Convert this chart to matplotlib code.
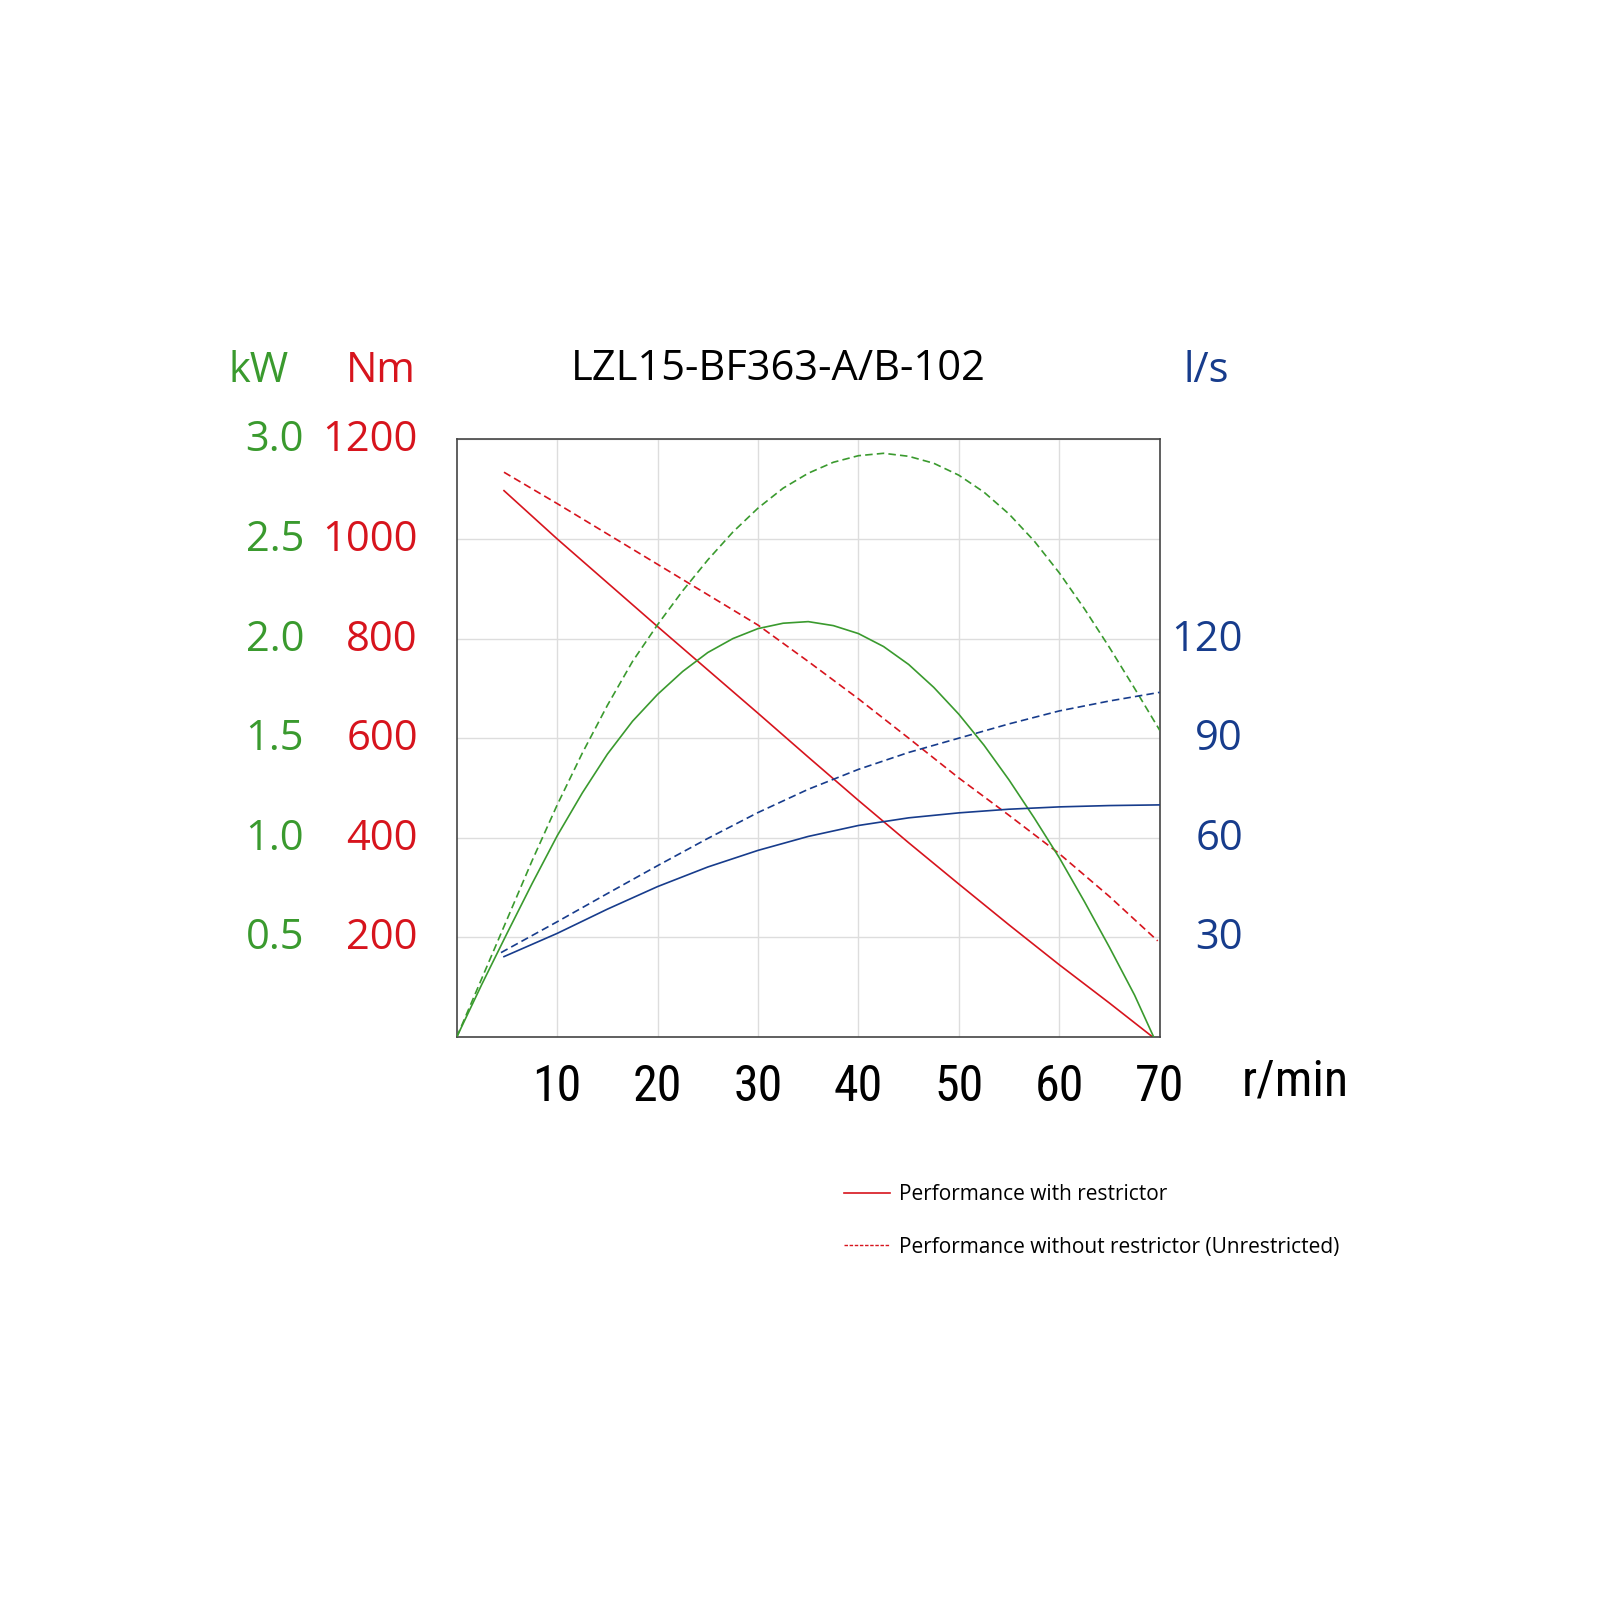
import matplotlib
matplotlib.use('Agg')
import matplotlib.pyplot as plt
from matplotlib import font_manager
from matplotlib.lines import Line2D
from matplotlib.transforms import ScaledTranslation

# colours
GREEN = '#3a9a2e'
RED = '#d7141d'
BLUE = '#173c8c'

# torque (Nm)
rpm_torque = [4.7, 10, 15, 20, 25, 30, 35, 40, 45, 50, 55, 60, 65, 69.3]
torque_restr = [1097, 1000, 912, 824, 737, 650, 562, 475, 390, 307, 225, 145, 68, 0]
rpm_torque_un = [4.7, 10, 15, 20, 25, 30, 35, 40, 45, 50, 55, 60, 65, 69.8]
torque_unrestr = [1134, 1071, 1010, 949, 888, 827, 754, 679, 600, 520, 445, 368, 282, 193]

# power (kW)
rpm_power = [0, 2.5, 5, 7.5, 10, 12.5, 15, 17.5, 20, 22.5, 25, 27.5, 30, 32.5, 35,
             37.5, 40, 42.5, 45, 47.5, 50, 52.5, 55, 57.5, 60, 62.5, 65, 67.5, 69.4]
power_restr = [0, 0.265, 0.52, 0.77, 1.01, 1.225, 1.42, 1.585, 1.72, 1.835, 1.93, 2.0, 2.05, 2.077, 2.085,
               2.065, 2.025, 1.96, 1.87, 1.755, 1.62, 1.465, 1.29, 1.10, 0.90, 0.68, 0.45, 0.21, 0]
rpm_power_un = [0, 2.5, 5, 7.5, 10, 12.5, 15, 17.5, 20, 22.5, 25, 27.5, 30, 32.5, 35,
                37.5, 40, 42.5, 45, 47.5, 50, 52.5, 55, 57.5, 60, 62.5, 65, 67.5, 70]
power_unrestr = [0, 0.295, 0.59, 0.885, 1.165, 1.425, 1.665, 1.885, 2.07, 2.24, 2.395, 2.535, 2.655, 2.755, 2.83,
                 2.885, 2.918, 2.93, 2.915, 2.88, 2.82, 2.735, 2.625, 2.49, 2.33, 2.15, 1.955, 1.75, 1.54]

# air flow (l/s)
rpm_flow = [4.7, 10, 15, 20, 25, 30, 35, 40, 45, 50, 55, 60, 65, 70]
flow_restr = [24.2, 31.2, 38.5, 45.3, 51.2, 56.2, 60.4, 63.7, 66.0, 67.5, 68.6, 69.3, 69.7, 69.9]
rpm_flow_un = [4.4, 10, 15, 20, 25, 30, 35, 40, 45, 50, 55, 60, 65, 70]
flow_unrestr = [25.4, 34.7, 43.2, 51.6, 59.8, 67.6, 74.6, 80.6, 85.7, 90.0, 94.3, 98.2, 101.2, 103.8]

x_ticks = [10, 20, 30, 40, 50, 60, 70]
nm_ticks = [200, 400, 600, 800, 1000, 1200]
kw_ticks = [0.5, 1.0, 1.5, 2.0, 2.5, 3.0]
ls_ticks = [30, 60, 90, 120]

FONT = ['Open Sans', 'DejaVu Sans']
plt.rcParams['font.family'] = FONT


def as_weight(w):
    if isinstance(w, str):
        return font_manager.weight_dict.get(w, 400)
    return int(w)


# pick a condensed face (regular or light) for the rpm labels if one is installed
weights = {}
for f in font_manager.fontManager.ttflist:
    weights.setdefault(f.name, set()).add(as_weight(f.weight))
NARROW = {'fontfamily': FONT, 'fontsize': 32}
for cand in ['Liberation Sans Narrow', 'DejaVu Sans Condensed', 'Open Sans Condensed',
             'Roboto Condensed', 'Noto Sans Condensed', 'Lato Condensed']:
    light = [w for w in weights.get(cand, ()) if w <= 450]
    if light:
        NARROW = {'fontfamily': [cand, 'DejaVu Sans'], 'fontsize': 36, 'fontweight': max(light)}
        break

fig = plt.figure(figsize=(16, 16), dpi=100)
ax = fig.add_axes([0.2855, 0.3519, 0.4393, 0.3735])
ax_kw = ax.twinx()
ax_ls = ax.twinx()

dash = (0, (4.5, 2.5))
lw = 1.2

ax.plot(rpm_torque, torque_restr, color=RED, lw=lw)
ax.plot(rpm_torque_un, torque_unrestr, color=RED, lw=lw, linestyle=dash)
ax_kw.plot(rpm_power, power_restr, color=GREEN, lw=lw)
ax_kw.plot(rpm_power_un, power_unrestr, color=GREEN, lw=lw, linestyle=dash)
ax_ls.plot(rpm_flow, flow_restr, color=BLUE, lw=lw)
ax_ls.plot(rpm_flow_un, flow_unrestr, color=BLUE, lw=lw, linestyle=dash)

ax.set_xlim(0, 70)
ax.set_ylim(0, 1200)
ax_kw.set_ylim(0, 3)
ax_ls.set_ylim(0, 180)

ax.grid(True, color='#dddddd', lw=1)
ax.set_axisbelow(True)
for s in ax.spines.values():
    s.set_color('#444444')
    s.set_linewidth(1.2)
for a in (ax_kw, ax_ls):
    for s in a.spines.values():
        s.set_visible(False)

ax.set_xticks(x_ticks)
ax.set_xticklabels([str(v) for v in x_ticks], **NARROW)
ax.tick_params(axis='x', length=0, pad=19, labelcolor='black')

ax.set_yticks(nm_ticks)
ax.set_yticklabels([str(v) for v in nm_ticks], fontsize=30)
ax.tick_params(axis='y', length=0, pad=28, labelcolor=RED)

ax_kw.yaxis.set_ticks_position('left')
ax_kw.yaxis.set_label_position('left')
ax_kw.set_yticks(kw_ticks)
ax_kw.set_yticklabels([f'{v:.1f}' for v in kw_ticks], fontsize=30)
ax_kw.tick_params(axis='y', length=0, pad=110, labelcolor=GREEN)

ax_ls.set_yticks(ls_ticks)
ax_ls.set_yticklabels([str(v) for v in ls_ticks], fontsize=30, ha='right')
ax_ls.tick_params(axis='y', length=0, pad=60, labelcolor=BLUE)

# nudge the y tick labels up a little
up = ScaledTranslation(0, 4 / 100, fig.dpi_scale_trans)
for a in (ax, ax_kw, ax_ls):
    for lbl in a.get_yticklabels():
        lbl.set_transform(lbl.get_transform() + up)

# titles / units
fig.text(778 / 1600, 1 - 369 / 1600, 'LZL15-BF363-A/B-102', fontsize=30, ha='center', va='center')
fig.text(259 / 1600, 1 - 371 / 1600, 'kW', fontsize=30, ha='center', va='center', color=GREEN)
fig.text(381 / 1600, 1 - 371 / 1600, 'Nm', fontsize=30, ha='center', va='center', color=RED)
fig.text(1206 / 1600, 1 - 371 / 1600, 'l/s', fontsize=30, ha='center', va='center', color=BLUE)
fig.text(1295 / 1600, 1 - 1082 / 1600, 'r/min', ha='center', va='center', **NARROW)

handles = [Line2D([], [], color=RED, lw=1.2),
           Line2D([], [], color=RED, lw=1.0, linestyle=(0, (2.5, 1.2)))]
fig.legend(handles, ['Performance with restrictor',
                     'Performance without restrictor (Unrestricted)'],
           loc='upper left', bbox_to_anchor=(0.5275, 0.2597), frameon=False,
           fontsize=15, handlelength=2.2, handletextpad=0.45, labelspacing=1.5,
           borderpad=0, borderaxespad=0)

fig.savefig('out.png', dpi=100, facecolor='white')
